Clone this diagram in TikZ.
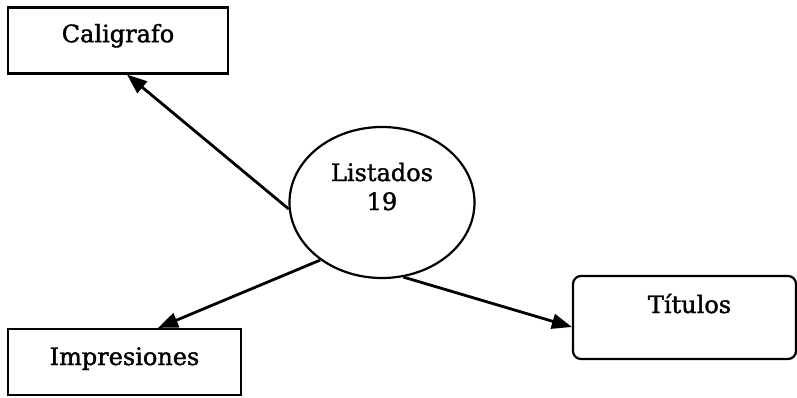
\documentclass[tikz,border=0pt]{standalone}
\usepackage{fontspec}
\setmainfont{DejaVu Serif}[FakeBold=1.5]
\usetikzlibrary{arrows.meta,shapes.geometric}
\begin{document}
\begin{tikzpicture}[x=1pt,y=1pt,
  label text/.style={font=\fontsize{24pt}{29pt}\selectfont},
  entity/.style={draw, line width=2.2pt, rectangle, inner sep=0pt, label text},
  process/.style={draw, line width=2.2pt, ellipse, inner sep=0pt, label text,
    minimum width=185pt, minimum height=151pt, align=center},
  flow/.style={line width=2.8pt, -{Triangle[length=20pt,width=15pt]}}]
\useasboundingbox (0,0) rectangle (797,397);
% external entities
\node[entity, minimum width=220pt, minimum height=66pt,
      text height=12pt, text depth=8.6pt] (cal) at (118,356.5) {Caligrafo};
\node[entity, minimum width=233pt, minimum height=66pt,
      text height=13pt, text depth=7pt] (imp) at (124.5,35) {Impresiones};
\node[entity, rounded corners=8pt, minimum width=223pt, minimum height=83pt,
      text height=8pt, text depth=17pt] (tit) at (684.5,79.5) {\hspace*{10pt}Títulos};
% process bubble
\node[process, text height=40pt, text depth=25pt] (lis) at (382,194.5) {Listados\\19};
% data flows
\draw[flow] (lis.184) -- ([xshift=9pt]cal.south);
\draw[flow] (lis.223) -- ([xshift=33.5pt]imp.north);
\draw[flow] (lis.286) -- ([yshift=-9.5pt]tit.west);
\end{tikzpicture}
\end{document}
